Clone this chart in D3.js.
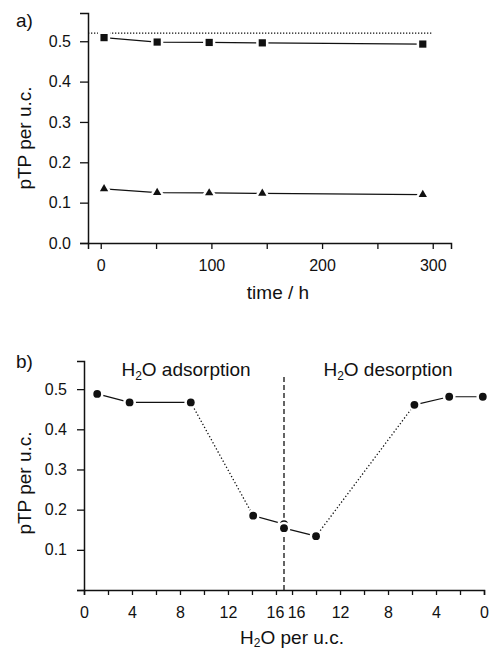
<!DOCTYPE html>
<html>
<head>
<meta charset="utf-8">
<script src="https://cdn.jsdelivr.net/npm/d3@7"></script>
<style>
  body { margin: 0; background: #fff; }
  svg text { font-family: "Liberation Sans", Arial, sans-serif; fill: #111; }
</style>
</head>
<body>
<script>
// panel a: time series
var timeH = [3, 51, 98, 146, 291];
var squareVals = [0.509, 0.498, 0.497, 0.496, 0.493];
var triangleVals = [0.134, 0.125, 0.124, 0.123, 0.120];
var refLevel = 0.52;
var timeTicks = [0, 50, 100, 150, 200, 250, 300];
var timeLabels = [0, 100, 200, 300];
var pTicks = [0, 0.1, 0.2, 0.3, 0.4, 0.5];

// panel b: adsorption / desorption
var h2oMax = 16.67;
var adsWater = [1.1, 3.8, 8.9, 14.1, 16.67];
var adsVals = [0.488, 0.467, 0.467, 0.185, 0.164];
var desWater = [16.67, 14.0, 5.8, 2.9, 0.1];
var desVals = [0.154, 0.134, 0.461, 0.481, 0.481];
var waterTicks = [0, 2, 4, 6, 8, 10, 12, 14, 16];
var waterLabels = [0, 4, 8, 12, 16];
var pTicksB = [0.1, 0.2, 0.3, 0.4, 0.5];

var W = 490, H = 650;
var svg = d3.select("body").append("svg").attr("width", W).attr("height", H);

function styleAxis(g) {
    g.selectAll(".domain").attr("stroke", "#111").attr("stroke-width", 1.5);
    g.selectAll(".tick line").attr("stroke", "#111").attr("stroke-width", 1.3);
    g.selectAll("text").attr("font-size", 16).attr("fill", "#111");
}

// ---------- panel a ----------
var xa = d3.scaleLinear().domain([-11.5, 316.5]).range([88, 451]);
var ya = d3.scaleLinear().domain([0, 0.57]).range([243, 13]);

var ga = svg.append("g");
ga.append("g").attr("transform", "translate(0,243)")
    .call(d3.axisBottom(xa).tickValues(timeTicks).tickSizeOuter(0).tickSize(6).tickPadding(11)
        .tickFormat(d => timeLabels.indexOf(d) >= 0 ? d : ""))
    .call(styleAxis);
ga.append("g").attr("transform", "translate(88,0)")
    .call(d3.axisLeft(ya).tickValues(pTicks).tickSizeOuter(0).tickSize(8).tickPadding(9)
        .tickFormat(d3.format(".1f")))
    .call(styleAxis);

ga.append("line")
    .attr("x1", xa(-11.5)).attr("x2", xa(300))
    .attr("y1", ya(refLevel)).attr("y2", ya(refLevel))
    .attr("stroke", "#111").attr("stroke-width", 1.2).attr("stroke-dasharray", "1.3,1.7");

var lineA = d3.line().x(d => xa(d[0])).y(d => ya(d[1]));
[[squareVals, d3.symbolSquare, 52], [triangleVals, d3.symbolTriangle, 30]].forEach(function(s) {
    var pts = timeH.map((t, i) => [t, s[0][i]]);
    ga.append("path").attr("d", lineA(pts)).attr("fill", "none")
        .attr("stroke", "#111").attr("stroke-width", 1.2);
    ga.selectAll(null).data(pts).join("path")
        .attr("d", d3.symbol().type(s[1]).size(s[2]))
        .attr("transform", d => "translate(" + xa(d[0]) + "," + ya(d[1]) + ")")
        .attr("fill", "#111").attr("stroke", "#fff").attr("stroke-width", 5)
        .attr("paint-order", "stroke");
});

ga.append("text").attr("x", 16).attr("y", 27).attr("font-size", 19).text("a)");
ga.append("text").attr("transform", "translate(31,138) rotate(-90)")
    .attr("text-anchor", "middle").attr("font-size", 19).text("pTP per u.c.");
ga.append("text").attr("x", 278).attr("y", 299)
    .attr("text-anchor", "middle").attr("font-size", 19).text("time / h");

// ---------- panel b ----------
var xb = d3.scaleLinear().domain([0, 2 * h2oMax]).range([84, 484]);
var yb = d3.scaleLinear().domain([0, 0.57]).range([590, 361]);
var adsPos = w => w;
var desPos = w => 2 * h2oMax - w;

var gb = svg.append("g");
var bTicks = waterTicks.map(adsPos).concat(waterTicks.map(desPos));
var bLabel = {};
waterLabels.forEach(function(w) { bLabel[adsPos(w).toFixed(3)] = w; bLabel[desPos(w).toFixed(3)] = w; });

var xAxisB = gb.append("g").attr("transform", "translate(0,590)")
    .call(d3.axisBottom(xb).tickValues(bTicks).tickSizeOuter(0).tickSize(5).tickPadding(12)
        .tickFormat(d => bLabel[d.toFixed(3)] !== undefined ? bLabel[d.toFixed(3)] : ""))
    .call(styleAxis);
// the two "16" labels sit side by side at the break
xAxisB.selectAll(".tick text")
    .attr("dx", d => Math.abs(d - 16) < 1e-6 ? -1 : (Math.abs(d - desPos(16)) < 1e-6 ? 4 : 0));

gb.append("g").attr("transform", "translate(84,0)")
    .call(d3.axisLeft(yb).tickValues([0].concat(pTicksB)).tickSizeOuter(0).tickSize(7).tickPadding(10)
        .tickFormat(d => d === 0 ? "" : d3.format(".1f")(d)))
    .call(styleAxis);

gb.append("line")
    .attr("x1", xb(h2oMax)).attr("x2", xb(h2oMax))
    .attr("y1", 377).attr("y2", 590)
    .attr("stroke", "#111").attr("stroke-width", 1.3).attr("stroke-dasharray", "5,3");

var adsPts = adsWater.map((w, i) => [adsPos(w), adsVals[i]]);
var desPts = desWater.map((w, i) => [desPos(w), desVals[i]]);
var adsDotted = [2];      // segment index drawn dotted
var desDotted = [1];

function drawSegments(pts, dotted) {
    for (var i = 0; i < pts.length - 1; i++) {
        var dot = dotted.indexOf(i) >= 0;
        gb.append("line")
            .attr("x1", xb(pts[i][0])).attr("y1", yb(pts[i][1]))
            .attr("x2", xb(pts[i + 1][0])).attr("y2", yb(pts[i + 1][1]))
            .attr("stroke", "#111").attr("stroke-width", dot ? 1.3 : 1.2)
            .attr("stroke-dasharray", dot ? "1.3,2.2" : null);
    }
}
drawSegments(adsPts, adsDotted);
drawSegments(desPts, desDotted);

gb.selectAll(null).data(adsPts.concat(desPts)).join("circle")
    .attr("cx", d => xb(d[0])).attr("cy", d => yb(d[1])).attr("r", 3.9)
    .attr("fill", "#111").attr("stroke", "#fff").attr("stroke-width", 5)
    .attr("paint-order", "stroke");

gb.append("text").attr("x", 16).attr("y", 368).attr("font-size", 19).text("b)");

function h2oText(x, y, rest, anchor, sub) {
    var t = gb.append("text").attr("x", x).attr("y", y).attr("font-size", 19)
        .attr("text-anchor", anchor);
    t.append("tspan").text("H");
    t.append("tspan").attr("font-size", 12).attr("dy", sub).text("2");
    t.append("tspan").attr("dy", -sub).text("O" + rest);
    return t;
}
h2oText(186, 376, " adsorption", "middle", 4);
h2oText(388, 376, " desorption", "middle", 4);
h2oText(292, 644, " per u.c.", "middle", 3);

gb.append("text").attr("transform", "translate(31,483) rotate(-90)")
    .attr("text-anchor", "middle").attr("font-size", 19).text("pTP per u.c.");
</script>
</body>
</html>
